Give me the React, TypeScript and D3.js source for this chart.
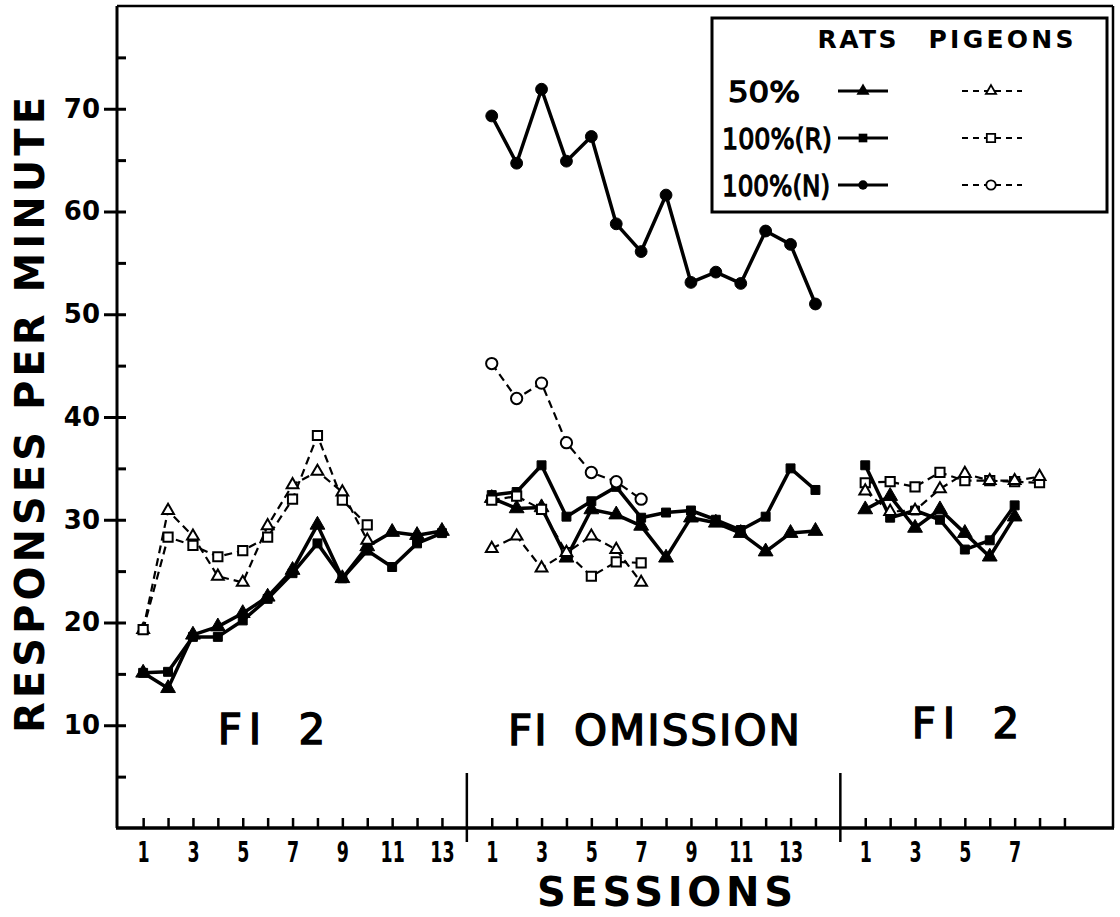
import React, { useEffect, useRef } from "react";
import * as d3 from "d3";

const W = 1120;
const H = 917;

// number of sessions in each phase (FI 2, FI omission, FI 2)
const phaseSessions = [13, 14, 9];
const phaseNames = ["FI 2", "FI OMISSION", "FI 2"];
const phaseTickLabels = [
  ["1", "3", "5", "7", "9", "11", "13"],
  ["1", "3", "5", "7", "9", "11", "13"],
  ["1", "3", "5", "7"],
];

const yMajorTicks = [10, 20, 30, 40, 50, 60, 70];
const yMinorTicks = [5, 15, 25, 35, 45, 55, 65, 75];

// phase 1 : FI 2
const rats50_p1 = [15.1, 13.6, 18.8, 19.6, 20.9, 22.5, 25.1, 29.5, 24.3, 27.4, 28.8, 28.5, 28.9];
const ratsR_p1 = [15.1, 15.2, 18.6, 18.6, 20.2, 22.3, 24.8, 27.7, 24.3, 27.0, 25.4, 27.7, 28.7];
const pigeons50_p1 = [19.3, 30.9, 28.4, 24.5, 23.9, 29.4, 33.4, 34.7, 32.7, 28.0];
const pigeonsR_p1 = [19.3, 28.3, 27.5, 26.4, 27.0, 28.3, 32.0, 38.2, 31.9, 29.5];

// phase 2 : FI omission
const ratsN_p2 = [69.3, 64.7, 71.9, 64.9, 67.3, 58.8, 56.1, 61.6, 53.1, 54.1, 53.0, 58.1, 56.8, 51.0];
const ratsR_p2 = [32.4, 32.7, 35.3, 30.3, 31.8, 33.2, 30.2, 30.7, 30.9, 30.0, 29.0, 30.3, 35.0, 32.9];
const rats50_p2 = [32.1, 31.1, 31.2, 26.3, 31.0, 30.5, 29.4, 26.3, 30.2, 29.7, 28.7, 26.9, 28.7, 28.9];
const pigeonsN_p2 = [45.2, 41.8, 43.3, 37.5, 34.6, 33.7, 32.0];
const pigeonsR_p2 = [31.9, 32.3, 31.0, 26.8, 24.5, 25.9, 25.8];
const pigeons50_p2 = [27.2, 28.4, 25.3, 26.8, 28.4, 27.1, 23.9];

// phase 3 : FI 2
const ratsR_p3 = [35.3, 30.2, 30.9, 30.0, 27.1, 28.0, 31.4];
const rats50_p3 = [31.0, 32.3, 29.2, 31.0, 28.7, 26.4, 30.3];
const pigeonsR_p3 = [33.6, 33.7, 33.2, 34.6, 33.8, 33.8, 33.7, 33.6];
const pigeons50_p3 = [32.8, 30.8, 30.9, 33.0, 34.5, 33.8, 33.8, 34.2];

const legendRows = ["50%", "100%(R)", "100%(N)"];
const legendCols = ["RATS", "PIGEONS"];

type Shape = "triangle" | "square" | "circle";
type Series = { phase: number; values: number[]; rat: boolean; shape: Shape };

const series: Series[] = [
  { phase: 0, values: pigeons50_p1, rat: false, shape: "triangle" },
  { phase: 0, values: pigeonsR_p1, rat: false, shape: "square" },
  { phase: 0, values: rats50_p1, rat: true, shape: "triangle" },
  { phase: 0, values: ratsR_p1, rat: true, shape: "square" },
  { phase: 1, values: pigeonsN_p2, rat: false, shape: "circle" },
  { phase: 1, values: pigeonsR_p2, rat: false, shape: "square" },
  { phase: 1, values: pigeons50_p2, rat: false, shape: "triangle" },
  { phase: 1, values: ratsN_p2, rat: true, shape: "circle" },
  { phase: 1, values: ratsR_p2, rat: true, shape: "square" },
  { phase: 1, values: rats50_p2, rat: true, shape: "triangle" },
  { phase: 2, values: pigeonsR_p3, rat: false, shape: "square" },
  { phase: 2, values: pigeons50_p3, rat: false, shape: "triangle" },
  { phase: 2, values: ratsR_p3, rat: true, shape: "square" },
  { phase: 2, values: rats50_p3, rat: true, shape: "triangle" },
];

const FONT = "'DejaVu Sans', sans-serif";

// first slot index of each phase on the shared session axis (one empty slot between phases)
const phaseStart = [0, phaseSessions[0] + 1, phaseSessions[0] + phaseSessions[1] + 2];

const symbolType = (s: Shape) =>
  s === "triangle" ? d3.symbolTriangle : s === "square" ? d3.symbolSquare : d3.symbolCircle;

const symbolSize = (s: Shape, rat: boolean) => {
  if (rat) return s === "triangle" ? 95 : s === "square" ? 80 : 110;
  return s === "triangle" ? 60 : s === "square" ? 85 : 100;
};

const App = () => {
  const ref = useRef<SVGSVGElement>(null);

  useEffect(() => {
    const svg = d3.select(ref.current);
    svg.selectAll("*").remove();

    const left = 117;
    const right = 1113;
    const x = d3.scaleLinear().domain([-1.05, 38.95]).range([left, right]);
    const y = d3.scaleLinear().domain([0, 80]).range([828, 6]);

    const g = svg.append("g");

    // frame
    g.append("line").attr("x1", left).attr("x2", right).attr("y1", y(80)).attr("y2", y(80))
      .attr("stroke", "#000").attr("stroke-width", 2.5);
    g.append("line").attr("x1", right).attr("x2", right).attr("y1", y(80)).attr("y2", y(0))
      .attr("stroke", "#000").attr("stroke-width", 2.5);
    g.append("line").attr("x1", left).attr("x2", left).attr("y1", y(80)).attr("y2", y(0))
      .attr("stroke", "#000").attr("stroke-width", 3);
    g.append("line").attr("x1", left - 1).attr("x2", right + 1).attr("y1", y(0)).attr("y2", y(0))
      .attr("stroke", "#000").attr("stroke-width", 3.5);

    // y axis: major ticks cross the axis, minor ticks inside only
    const yMajor = d3.axisLeft(y).tickValues(yMajorTicks).tickSize(13).tickPadding(4)
      .tickFormat(d3.format("d"));
    g.append("g").attr("transform", `translate(${left},0)`).call(yMajor)
      .call((a) => a.select(".domain").remove())
      .call((a) => a.selectAll("line").attr("stroke-width", 3))
      .call((a) => a.selectAll("text").attr("font-family", FONT).attr("font-weight", "bold")
        .attr("font-size", 26).attr("fill", "#000"));
    const yInner = d3.axisRight(y).tickValues([...yMajorTicks, ...yMinorTicks]).tickSize(9)
      .tickFormat(() => "");
    g.append("g").attr("transform", `translate(${left},0)`).call(yInner)
      .call((a) => a.select(".domain").remove())
      .call((a) => a.selectAll("line").attr("stroke-width", 3));

    // x axis: session ticks pointing up, labels on odd sessions
    const tickIdx: number[] = [];
    const tickText = new Map<number, string>();
    phaseSessions.forEach((n, p) => {
      for (let s = 1; s <= n; s++) {
        const i = phaseStart[p] + s - 1;
        tickIdx.push(i);
        if (phaseTickLabels[p].includes(String(s))) tickText.set(i, String(s));
      }
    });
    const xAxis = d3.axisBottom(x).tickValues(tickIdx).tickSize(-10).tickPadding(13)
      .tickFormat((d) => tickText.get(d as number) || "");
    g.append("g").attr("transform", `translate(0,${y(0)})`).call(xAxis)
      .call((a) => a.select(".domain").remove())
      .call((a) => a.selectAll("line").attr("stroke-width", 2.5))
      .call((a) => a.selectAll("text").attr("font-family", FONT).attr("font-weight", "bold")
        .attr("font-size", 29).attr("fill", "#000").attr("transform", "scale(0.6,1)"));

    // phase dividers
    [phaseStart[1] - 1, phaseStart[2] - 1].forEach((i) => {
      g.append("line").attr("x1", x(i)).attr("x2", x(i)).attr("y1", y(0) - 55).attr("y2", y(0) + 14)
        .attr("stroke", "#000").attr("stroke-width", 2.5);
    });

    // phase labels
    const phaseLabelPos = [[275, 744], [655, 745], [969, 738]];
    phaseNames.forEach((t, p) => {
      g.append("text").attr("x", phaseLabelPos[p][0]).attr("y", phaseLabelPos[p][1])
        .attr("text-anchor", "middle").attr("font-family", FONT).attr("font-size", 42)
        .attr("letter-spacing", p === 1 ? 2 : 7).attr("word-spacing", 10)
        .attr("stroke", "#000").attr("stroke-width", 1.5).attr("fill", "#000").text(t);
    });

    // axis titles
    g.append("text").attr("transform", "translate(44,415) rotate(-90)").attr("text-anchor", "middle")
      .attr("font-family", FONT).attr("font-weight", "bold").attr("font-size", 40)
      .attr("textLength", 636).attr("lengthAdjust", "spacing").text("RESPONSES PER MINUTE");
    g.append("text").attr("x", 665).attr("y", 906).attr("text-anchor", "middle")
      .attr("font-family", FONT).attr("font-weight", "bold").attr("font-size", 40)
      .attr("textLength", 256).attr("lengthAdjust", "spacing").text("SESSIONS");

    // data lines
    const drawLine = (s: Series) => {
      const gen = d3.line<number>()
        .x((_, k) => x(phaseStart[s.phase] + k))
        .y((v) => y(v));
      g.append("path").attr("d", gen(s.values)).attr("fill", "none").attr("stroke", "#000")
        .attr("stroke-width", s.rat ? 3.5 : 2.2)
        .attr("stroke-dasharray", s.rat ? null : "8,5")
        .attr("stroke-linejoin", "round");
    };
    series.filter((s) => !s.rat).forEach(drawLine);
    series.filter((s) => s.rat).forEach(drawLine);

    const drawMarkers = (s: Series) => {
      const sym = d3.symbol().type(symbolType(s.shape)).size(symbolSize(s.shape, s.rat));
      g.append("g").selectAll("path").data(s.values).join("path")
        .attr("transform", (v, k) => `translate(${x(phaseStart[s.phase] + k)},${y(v)})`)
        .attr("d", sym() as string)
        .attr("fill", s.rat ? "#000" : "#fff")
        .attr("stroke", "#000")
        .attr("stroke-width", s.rat ? 1 : 2);
    };
    series.filter((s) => s.rat).forEach(drawMarkers);
    series.filter((s) => !s.rat).forEach(drawMarkers);

    // legend
    const lg = g.append("g");
    lg.append("rect").attr("x", 712).attr("y", 18).attr("width", 395).attr("height", 194)
      .attr("fill", "#fff").attr("stroke", "#000").attr("stroke-width", 3);
    const colX = [857, 1001];
    const colW = [79, 145];
    legendCols.forEach((t, c) => {
      lg.append("text").attr("x", colX[c]).attr("y", 48).attr("text-anchor", "middle")
        .attr("font-family", FONT).attr("font-weight", "bold").attr("font-size", 25)
        .attr("textLength", colW[c]).attr("lengthAdjust", "spacing").text(t);
    });
    const rowY = [91, 138, 185];
    const rowW = [72, 110, 108];
    const rowX = [728, 722, 722];
    const rowShapes: Shape[] = ["triangle", "square", "circle"];
    legendRows.forEach((t, r) => {
      lg.append("text").attr("x", rowX[r]).attr("y", rowY[r] + 11)
        .attr("font-family", FONT).attr("font-size", 28).attr("stroke", "#000").attr("stroke-width", 1.3)
        .attr("textLength", rowW[r]).attr("lengthAdjust", "spacingAndGlyphs").text(t);
      lg.append("line").attr("x1", 838).attr("x2", 888).attr("y1", rowY[r]).attr("y2", rowY[r])
        .attr("stroke", "#000").attr("stroke-width", 3);
      lg.append("path").attr("transform", `translate(863,${rowY[r]})`)
        .attr("d", d3.symbol().type(symbolType(rowShapes[r])).size(rowShapes[r] === "circle" ? 70 : 75)() as string)
        .attr("fill", "#000");
      lg.append("line").attr("x1", 962).attr("x2", 1022).attr("y1", rowY[r]).attr("y2", rowY[r])
        .attr("stroke", "#000").attr("stroke-width", 2).attr("stroke-dasharray", "6,5");
      lg.append("path").attr("transform", `translate(991,${rowY[r]})`)
        .attr("d", d3.symbol().type(symbolType(rowShapes[r])).size(rowShapes[r] === "triangle" ? 45 : 70)() as string)
        .attr("fill", "#fff").attr("stroke", "#000").attr("stroke-width", 1.8);
    });
  }, []);

  return (
    <div style={{ position: "absolute", left: 0, top: 0 }}>
      <svg ref={ref} width={W} height={H} style={{ display: "block", background: "#fff" }} />
    </div>
  );
};

export default App;
